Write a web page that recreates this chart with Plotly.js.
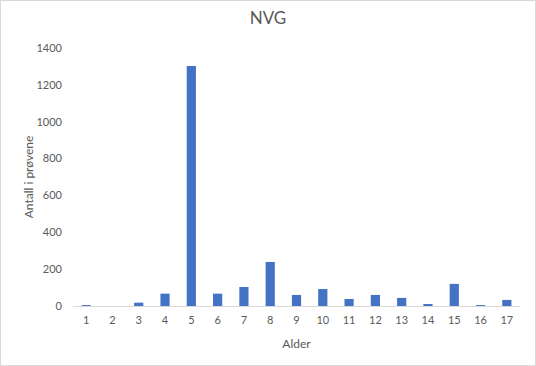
<!DOCTYPE html>
<html>
<head>
<meta charset="utf-8">
<script src="https://cdn.plot.ly/plotly-3.0.1.min.js"></script>
<style>
html,body{margin:0;padding:0;background:#fff;}
#wrap{position:relative;width:536px;height:366px;}
#chart{width:536px;height:366px;}
#frame{position:absolute;left:0;top:0;width:534px;height:364px;border:1px solid #d9d9d9;pointer-events:none;}
</style>
</head>
<body>
<div id="wrap"><div id="chart"></div><div id="frame"></div></div>
<script>
var ages = ["1","2","3","4","5","6","7","8","9","10","11","12","13","14","15","16","17"];
var counts = [5, 0, 18, 67, 1303, 67, 103, 239, 60, 92, 38, 60, 44, 11, 120, 5, 33];
var yTicks = [0, 200, 400, 600, 800, 1000, 1200, 1400];

var fontFam = "Lato, 'Open Sans', sans-serif";
var grey = "#595959";

Plotly.newPlot("chart", [{
  type: "bar",
  x: ages,
  y: counts,
  marker: {color: "#4472C4"},
  hoverinfo: "x+y"
}], {
  width: 536, height: 366,
  margin: {l: 73, r: 16, t: 48, b: 60},
  paper_bgcolor: "#fff", plot_bgcolor: "#fff",
  bargap: 0.65,
  showlegend: false,
  font: {family: fontFam, color: grey, size: 10},
  title: {text: "NVG", font: {family: fontFam, size: 17, color: grey}, x: 0.5, xanchor: "center", y: 0.95, yanchor: "middle"},
  xaxis: {
    type: "category",
    title: {text: "Alder", font: {size: 12, color: grey}, standoff: 14},
    showline: true, linecolor: "#d9d9d9", linewidth: 1,
    ticks: "", showgrid: false, zeroline: false,
    tickfont: {size: 11, color: grey},
    ticklabelstandoff: 4
  },
  yaxis: {
    title: {text: "Antall i prøvene", font: {size: 12, color: grey}, standoff: 0},
    range: [0, 1400],
    tickvals: yTicks,
    ticktext: yTicks.map(String),
    showgrid: false, zeroline: false, showline: false, ticks: "",
    tickfont: {size: 11, color: grey},
    ticklabelstandoff: 10
  }
}, {staticPlot: true});
</script>
</body>
</html>
